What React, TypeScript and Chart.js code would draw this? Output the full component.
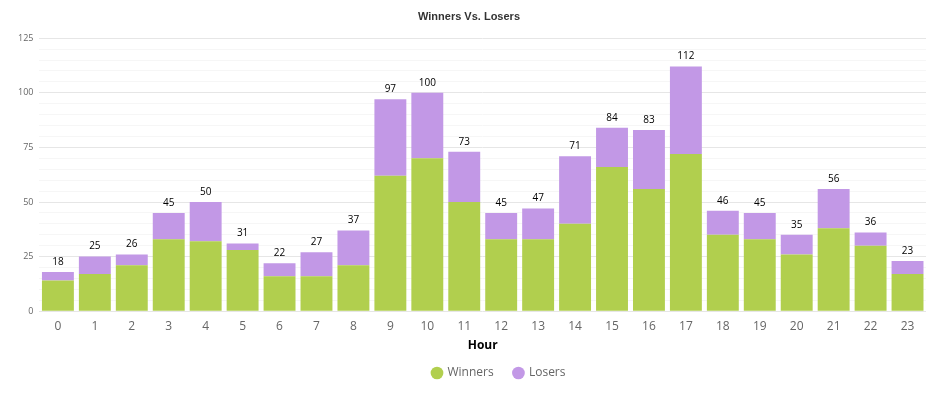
import React, { useEffect, useRef } from "react";
import { Chart, registerables } from "chart.js";

Chart.register(...registerables);

const hours = ["0","1","2","3","4","5","6","7","8","9","10","11","12","13","14","15","16","17","18","19","20","21","22","23"];
const totals = [18,25,26,45,50,31,22,27,37,97,100,73,45,47,71,84,83,112,46,45,35,56,36,23];
const winners = [14,17,21,33,32,28,16,16,21,62,70,50,33,33,40,66,56,72,35,33,26,38,30,17];
const losers = totals.map((t, i) => t - winners[i]);

const totalLabels = {
  id: "totalLabels",
  afterDatasetsDraw(chart: any) {
    const ctx = chart.ctx;
    const meta = chart.getDatasetMeta(1);
    ctx.save();
    ctx.font = "10px 'Open Sans', sans-serif";
    ctx.fillStyle = "#000";
    ctx.textAlign = "center";
    ctx.textBaseline = "bottom";
    meta.data.forEach((el: any, i: number) => {
      ctx.fillText(String(totals[i]), el.x, el.y - 5);
    });
    ctx.restore();
  },
};

const legendShift = {
  id: "legendShift",
  afterLayout(chart: any) {
    if (chart.legend) {
      chart.legend.left += 30;
      chart.legend.right += 30;
    }
  },
};

export default function App() {
  const ref = useRef<HTMLCanvasElement | null>(null);
  useEffect(() => {
    if (!ref.current) return;
    const chart = new Chart(ref.current, {
      type: "bar",
      data: {
        labels: hours,
        datasets: [
          { label: "Winners", data: winners, backgroundColor: "#b1cf4e", borderWidth: 0, categoryPercentage: 0.9, barPercentage: 0.96 },
          { label: "Losers", data: losers, backgroundColor: "#c298e6", borderWidth: 0, categoryPercentage: 0.9, barPercentage: 0.96 },
        ],
      },
      options: {
        responsive: false,
        animation: false,
        layout: { padding: { left: 12, right: 10, top: 0, bottom: 5 } },
        plugins: {
          title: {
            display: true,
            text: "Winners Vs. Losers",
            color: "#333",
            font: { family: "'Liberation Sans', Arial, sans-serif", size: 11, weight: "bold" },
            padding: { top: 10, bottom: 15 },
          },
          legend: {
            position: "bottom",
            labels: {
              usePointStyle: true,
              pointStyle: "circle",
              boxWidth: 9,
              boxHeight: 9,
              padding: 14,
              color: "#666",
              font: { family: "'Open Sans', sans-serif", size: 12 },
              generateLabels: (c: any) => {
                const items = Chart.defaults.plugins.legend.labels.generateLabels(c);
                items.forEach((it: any, i: number) => {
                  if (i === 0) it.text = it.text + "  ";
                });
                return items;
              },
            },
          },
          tooltip: { enabled: false },
        },
        scales: {
          x: {
            stacked: true,
            grid: { display: false },
            border: { display: false },
            ticks: { color: "#666", font: { family: "'Open Sans', sans-serif", size: 12 }, padding: 0 },
            title: {
              display: true,
              text: "Hour",
              color: "#000",
              font: { family: "'Open Sans', sans-serif", size: 12, weight: "bold" },
              padding: { top: 5, bottom: 0 },
            },
          },
          y: {
            stacked: true,
            min: 0,
            max: 125,
            border: { display: false },
            grid: {
              drawTicks: false,
              color: (c: any) => (c.tick && c.tick.value % 25 === 0 ? "#e6e6e6" : "#f6f6f6"),
            },
            ticks: {
              stepSize: 5,
              autoSkip: false,
              padding: 6,
              color: "#666",
              font: { family: "'Open Sans', sans-serif", size: 9 },
              callback: (v: any) => (Number(v) % 25 === 0 ? String(v) : ""),
            },
          },
        },
      },
      plugins: [totalLabels, legendShift],
    });
    return () => chart.destroy();
  }, []);
  return (
    <div style={{ position: "absolute", left: 0, top: 0, width: 936, height: 394, background: "#fff" }}>
      <canvas ref={ref} width={936} height={394} style={{ display: "block" }} />
    </div>
  );
}
